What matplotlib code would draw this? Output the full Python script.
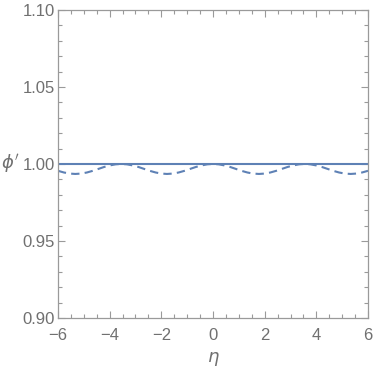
import matplotlib
matplotlib.use("Agg")
import matplotlib.pyplot as plt
from matplotlib.ticker import MultipleLocator

# values (right half, curve is symmetric about eta = 0)
eta_half = [0.00, 0.22, 0.44, 0.67, 0.89, 1.11, 1.33, 1.55, 1.78, 2.00,
            2.22, 2.44, 2.66, 2.88, 3.11, 3.33, 3.55, 3.77, 3.99, 4.22,
            4.44, 4.66, 4.88, 5.10, 5.33, 5.55, 5.77, 6.00]
phi_half = [1.00000, 0.99975, 0.99905, 0.99800, 0.99675, 0.99550, 0.99445,
            0.99375, 0.99350, 0.99375, 0.99445, 0.99550, 0.99675, 0.99800,
            0.99905, 0.99975, 1.00000, 0.99975, 0.99905, 0.99800, 0.99675,
            0.99550, 0.99445, 0.99375, 0.99350, 0.99375, 0.99445, 0.99555]

eta = [-v for v in eta_half[:0:-1]] + eta_half
phi_dashed = phi_half[:0:-1] + phi_half
eta_flat = [-6, 6]
phi_flat = [1.0, 1.0]

line_color = "#5E81B5"
frame_color = "#9a9a9a"
text_color = "#707070"

plt.rcParams["font.family"] = ["Liberation Sans", "DejaVu Sans"]

fig = plt.figure(figsize=(3.74, 3.68), dpi=100)
ax = fig.add_axes([0.155, 0.136, 0.829, 0.837])

ax.plot(eta_flat, phi_flat, color=line_color, linewidth=1.5)
ax.plot(eta, phi_dashed, color=line_color, linewidth=1.5, linestyle=(0, (4, 2.5)))

ax.set_xlim(-6, 6)
ax.set_ylim(0.90, 1.10)
ax.xaxis.set_major_locator(MultipleLocator(2))
ax.xaxis.set_minor_locator(MultipleLocator(0.5))
ax.yaxis.set_major_locator(MultipleLocator(0.05))
ax.yaxis.set_minor_locator(MultipleLocator(0.01))
ax.yaxis.set_major_formatter(matplotlib.ticker.FormatStrFormatter("%.2f"))
ax.xaxis.set_major_formatter(
    matplotlib.ticker.FuncFormatter(lambda v, p: f"{v:.0f}".replace("-", "\u2212")))

for side in ax.spines.values():
    side.set_color(frame_color)
    side.set_linewidth(0.9)

ax.tick_params(which="both", direction="in", top=True, right=True,
               color=frame_color, width=0.8, labelcolor=text_color, labelsize=12)
ax.tick_params(which="major", length=5)
ax.tick_params(which="minor", length=3)
ax.tick_params(axis="x", pad=7)
ax.tick_params(axis="y", pad=2)

ax.set_xlabel(r"$\eta$", color=text_color, fontsize=13, labelpad=5)
ax.set_ylabel(r"$\phi'$", color=text_color, fontsize=13, rotation=0, va="center")
ax.yaxis.set_label_coords(-0.155, 0.5)

fig.savefig("out.png", dpi=100)
plt.close(fig)
